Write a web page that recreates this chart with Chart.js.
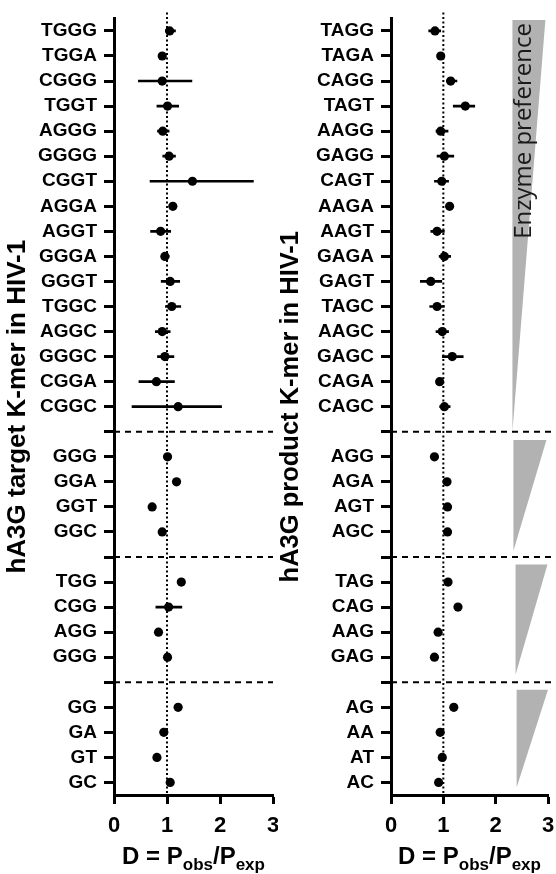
<!DOCTYPE html>
<html>
<head>
<meta charset="utf-8">
<script src="https://cdn.jsdelivr.net/npm/chart.js@4.4.0/dist/chart.umd.min.js"></script>
<style>
    html, body { margin: 0; padding: 0; background: #fff; }
    #wrap { position: relative; width: 556px; height: 874px; }
    .panel { position: absolute; top: 0; width: 278px; height: 874px; }
    #left { left: 0; }
    #right { left: 278px; }
</style>
</head>
<body>
<div id="wrap">
    <div class="panel" id="left"><canvas id="targetChart" width="278" height="874"></canvas></div>
    <div class="panel" id="right"><canvas id="productChart" width="278" height="874"></canvas></div>
</div>
<script>
// left panel: target K-mers ('' = group separator)
const targetLabels = ['TGGG', 'TGGA', 'CGGG', 'TGGT', 'AGGG', 'GGGG', 'CGGT', 'AGGA',
    'AGGT', 'GGGA', 'GGGT', 'TGGC', 'AGGC', 'GGGC', 'CGGA', 'CGGC', '',
    'GGG', 'GGA', 'GGT', 'GGC', '',
    'TGG', 'CGG', 'AGG', 'GGG', '',
    'GG', 'GA', 'GT', 'GC'];
const targetD = [1.05, 0.91, 0.91, 1.01, 0.92, 1.04, 1.48, 1.11,
    0.88, 0.96, 1.06, 1.09, 0.91, 0.96, 0.80, 1.21, null,
    1.01, 1.18, 0.72, 0.91, null,
    1.27, 1.03, 0.84, 1.01, null,
    1.21, 0.94, 0.81, 1.06];
const targetLo = [0.97, 0.87, 0.46, 0.81, 0.82, 0.92, 0.68, 1.06,
    0.69, 0.89, 0.89, 0.97, 0.78, 0.82, 0.47, 0.34, null,
    null, null, null, null, null,
    null, 0.79, null, null, null,
    null, null, null, null];
const targetHi = [1.16, 0.95, 1.47, 1.22, 1.04, 1.16, 2.63, 1.16,
    1.07, 1.04, 1.24, 1.26, 1.06, 1.13, 1.14, 2.03, null,
    null, null, null, null, null,
    null, 1.28, null, null, null,
    null, null, null, null];

// right panel: product K-mers
const productLabels = ['TAGG', 'TAGA', 'CAGG', 'TAGT', 'AAGG', 'GAGG', 'CAGT', 'AAGA',
    'AAGT', 'GAGA', 'GAGT', 'TAGC', 'AAGC', 'GAGC', 'CAGA', 'CAGC', '',
    'AGG', 'AGA', 'AGT', 'AGC', '',
    'TAG', 'CAG', 'AAG', 'GAG', '',
    'AG', 'AA', 'AT', 'AC'];
const productD = [0.84, 0.95, 1.14, 1.42, 0.95, 1.02, 0.97, 1.12,
    0.88, 1.02, 0.76, 0.88, 0.98, 1.17, 0.93, 1.02, null,
    0.83, 1.07, 1.08, 1.08, null,
    1.09, 1.28, 0.90, 0.83, null,
    1.20, 0.94, 0.98, 0.91];
const productLo = [0.72, 0.89, 1.06, 1.19, 0.86, 0.88, 0.83, 1.07,
    0.76, 0.92, 0.56, 0.74, 0.86, 0.98, 0.88, 0.93, null,
    null, null, null, null, null,
    null, null, null, null, null,
    null, null, null, null];
const productHi = [0.95, 1.01, 1.26, 1.60, 1.09, 1.20, 1.10, 1.17,
    1.02, 1.14, 0.97, 1.02, 1.10, 1.38, 0.99, 1.13, null,
    null, null, null, null, null,
    null, null, null, null, null,
    null, null, null, null];

const xTicks = [0, 1, 2, 3];

const FONT = '"Liberation Sans", Arial, Helvetica, sans-serif';

// dashed group separators, dotted line at D = 1, wedges
const guidesPlugin = {
    id: 'guides',
    beforeDatasetsDraw(chart, args, opts) {
        const ctx = chart.ctx;
        const area = chart.chartArea;
        const x = chart.scales.x, y = chart.scales.y;

        // enzyme preference wedges
        (opts.wedges || []).forEach(w => {
            const xl = x.getPixelForValue(w.x0), xr = x.getPixelForValue(w.x1);
            const yt = y.getPixelForValue(w.top), yb = y.getPixelForValue(w.bottom);
            ctx.save();
            ctx.fillStyle = '#b2b2b2';
            ctx.beginPath();
            ctx.moveTo(xl, yt);
            ctx.lineTo(xr, yt);
            ctx.lineTo(xl, yb);
            ctx.closePath();
            ctx.fill();
            ctx.restore();
        });
        if (opts.wedgeText) {
            const t = opts.wedgeText;
            ctx.save();
            ctx.translate(x.getPixelForValue(t.x), y.getPixelForValue(t.y));
            ctx.rotate(-Math.PI / 2);
            ctx.font = '24px "Open Sans", sans-serif';
            ctx.fillStyle = '#1a1a1a';
            ctx.textAlign = 'left';
            ctx.textBaseline = 'alphabetic';
            ctx.fillText(t.text, 0, 0);
            ctx.restore();
        }

        // dotted reference line
        ctx.save();
        ctx.strokeStyle = '#000';
        ctx.lineWidth = 2;
        ctx.setLineDash([2, 2.5]);
        const x1 = x.getPixelForValue(1);
        ctx.beginPath();
        ctx.moveTo(x1, area.top - 6);
        ctx.lineTo(x1, area.bottom);
        ctx.stroke();
        ctx.restore();

        // separators
        ctx.save();
        ctx.strokeStyle = '#000';
        ctx.lineWidth = 2;
        ctx.setLineDash([6, 5]);
        chart.data.labels.forEach((l, i) => {
            if (l !== '') return;
            const py = y.getPixelForValue(i);
            ctx.beginPath();
            ctx.moveTo(area.left, py);
            ctx.lineTo(opts.sepRight || area.right, py);
            ctx.stroke();
        });
        ctx.restore();
    },
    afterDraw(chart) {
        // x title with subscripts
        const ctx = chart.ctx;
        const area = chart.chartArea;
        const parts = [['D = P', false], ['obs', true], ['/P', false], ['exp', true]];
        const big = 'bold 24px ' + FONT, small = 'bold 17px ' + FONT;
        let w = 0;
        parts.forEach(p => { ctx.font = p[1] ? small : big; w += ctx.measureText(p[0]).width; });
        let cx = (area.left + area.right) / 2 - w / 2;
        const base = 864;
        ctx.save();
        ctx.fillStyle = '#000';
        ctx.textBaseline = 'alphabetic';
        ctx.textAlign = 'left';
        parts.forEach(p => {
            ctx.font = p[1] ? small : big;
            ctx.fillText(p[0], cx, p[1] ? base + 6 : base);
            cx += ctx.measureText(p[0]).width;
        });
        ctx.restore();
    }
};

function makeChart(id, labels, values, lo, hi, cfg) {
    const errData = lo.map((l, i) => l == null ? null : [l, hi[i]]);
    return new Chart(document.getElementById(id), {
        type: 'bar',
        data: {
            labels: labels,
            datasets: [{
                type: 'line',
                indexAxis: 'y',
                data: values,
                showLine: false,
                pointRadius: 4.6,
                pointBorderWidth: 0,
                pointBackgroundColor: '#000',
                borderColor: '#000',
                order: 0
            }, {
                type: 'bar',
                indexAxis: 'y',
                data: errData,
                barThickness: 2,
                backgroundColor: '#000',
                borderWidth: 0,
                order: 1
            }]
        },
        options: {
            indexAxis: 'y',
            responsive: false,
            animation: false,
            layout: { padding: { top: 16, right: cfg.padRight, left: 0, bottom: 0 } },
            plugins: {
                legend: { display: false },
                tooltip: { enabled: false },
                guides: { wedges: cfg.wedges, wedgeText: cfg.wedgeText, sepRight: cfg.sepRight }
            },
            scales: {
                x: {
                    type: 'linear',
                    min: 0,
                    max: 3,
                    afterBuildTicks: s => { s.ticks = xTicks.map(v => ({ value: v })); },
                    afterFit: s => { s.height = 79; s.paddingLeft = 0; s.paddingRight = 0; },
                    grid: {
                        drawOnChartArea: false,
                        tickLength: 9,
                        tickWidth: 3,
                        tickColor: '#000'
                    },
                    border: { color: '#000', width: 3 },
                    ticks: {
                        color: '#000',
                        padding: 9,
                        font: { family: FONT, size: 22, weight: 'bold' }
                    }
                },
                y: {
                    type: 'category',
                    offset: true,
                    afterFit: s => { s.width = cfg.yWidth; },
                    grid: {
                        offset: false,
                        drawOnChartArea: false,
                        tickLength: 10,
                        tickWidth: 3,
                        tickColor: '#000'
                    },
                    border: { color: '#000', width: 3 },
                    ticks: {
                        autoSkip: false,
                        color: '#000',
                        padding: 7,
                        font: { family: FONT, size: 19, weight: 'bold' }
                    },
                    title: {
                        display: true,
                        text: cfg.yTitle,
                        color: '#000',
                        padding: { top: cfg.titlePad, bottom: 0 },
                        font: { family: FONT, size: cfg.titleSize, weight: 'bold', lineHeight: 1 }
                    }
                }
            }
        },
        plugins: [guidesPlugin]
    });
}

makeChart('targetChart', targetLabels, targetD, targetLo, targetHi, {
    yTitle: 'hA3G target K-mer in HIV-1',
    titleSize: 26,
    titlePad: 5,
    yWidth: 114,
    padRight: 5
});

makeChart('productChart', productLabels, productD, productLo, productHi, {
    yTitle: 'hA3G product K-mer in HIV-1',
    titleSize: 25.5,
    titlePad: 0.5,
    yWidth: 113,
    padRight: 8,
    sepRight: 278,
    wedges: [
        { top: -0.44, bottom: 16, x0: 2.32, x1: 2.95 },
        { top: 16.33, bottom: 20.75, x0: 2.34, x1: 2.97 },
        { top: 21.3, bottom: 25.7, x0: 2.38, x1: 2.99 },
        { top: 26.3, bottom: 30.2, x0: 2.40, x1: 3.0 }
    ],
    wedgeText: { text: 'Enzyme preference', x: 2.67, y: 8.3 }
});
</script>
</body>
</html>
